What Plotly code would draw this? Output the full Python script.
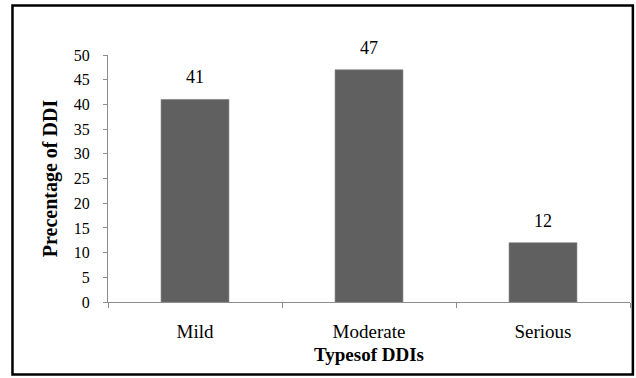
import plotly.graph_objects as go

# Drug-drug interaction severity distribution
categories = ["Mild", "Moderate", "Serious"]
percentages = [41, 47, 12]
y_ticks = [0, 5, 10, 15, 20, 25, 30, 35, 40, 45, 50]

SERIF = "Liberation Serif"
AXIS_GRAY = "#8c8c8c"

fig = go.Figure()
fig.add_trace(go.Bar(
    x=categories,
    y=percentages,
    marker=dict(color="#606060", line=dict(color="#7a7a7a", width=0.6)),
    width=0.39,
    hoverinfo="skip",
))

# value labels floating above each bar
for cat, val in zip(categories, percentages):
    fig.add_annotation(
        x=cat, y=val, text=str(val), showarrow=False,
        yshift=22, font=dict(family=SERIF, size=18, color="black"),
    )

# outer frame around the whole chart
fig.add_shape(
    type="rect", xref="paper", yref="paper",
    x0=-0.183, x1=1.0055, y0=-0.2935, y1=1.2005,
    line=dict(color="black", width=2.5), fillcolor="rgba(0,0,0,0)",
    layer="above",
)

fig.update_layout(
    width=636, height=378,
    margin=dict(l=108, r=6, t=55, b=76),
    paper_bgcolor="white", plot_bgcolor="white",
    showlegend=False,
    font=dict(family=SERIF, color="black"),
)

fig.update_xaxes(
    type="category",
    showline=True, linecolor=AXIS_GRAY, linewidth=1,
    ticks="outside", tickson="boundaries", ticklen=5, tickcolor=AXIS_GRAY,
    tickfont=dict(family=SERIF, size=19, color="black"),
    ticklabelstandoff=12,
    showgrid=False, zeroline=False,
    title=dict(text="<b>Typesof DDIs</b>", font=dict(family=SERIF, size=19), standoff=6),
)

fig.update_yaxes(
    range=[0, 50], tickvals=y_ticks,
    showline=True, linecolor=AXIS_GRAY, linewidth=1,
    ticks="outside", ticklen=4, tickcolor=AXIS_GRAY,
    tickfont=dict(family=SERIF, size=16, color="black"),
    ticklabelstandoff=10,
    showgrid=False, zeroline=False,
    title=dict(text="<b>Precentage of DDI</b>", font=dict(family=SERIF, size=20), standoff=10),
)

fig.write_html("out.html")
